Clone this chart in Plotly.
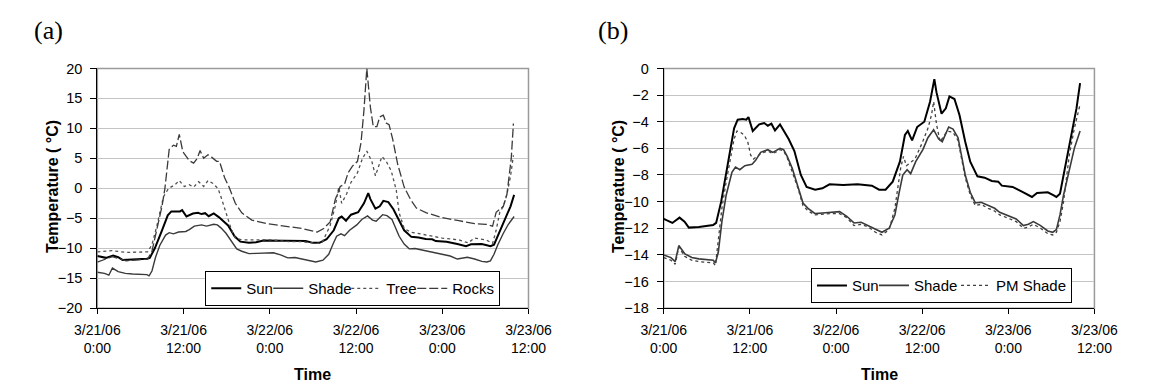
import pandas as pd
import plotly.graph_objects as go

# ---------------- data (hours since 3/21/06 0:00, temperature in °C) ----------------
sun_hours = [0, 1.2, 2.2, 2.9, 3.5, 4.9, 6.9, 7.3, 8.0, 9.0,
             9.8, 10.3, 11.0, 11.5, 11.8, 12.4, 13.3, 14.0, 14.5, 15.0,
             15.5, 16.2, 16.9, 17.4, 18.2, 19.1, 19.9, 21.1, 22.1, 23.1,
             25.0, 27.0, 29.0, 30.0, 30.9, 31.9, 32.9, 33.6, 34.0, 34.6,
             35.3, 36.3, 37.1, 37.7, 38.0, 38.7, 39.3, 39.8, 40.5, 41.2,
             42.0, 42.7, 43.7, 44.7, 45.7, 46.6, 47.1, 48.6, 50.1, 51.3,
             52.0, 53.5, 54.2, 54.7, 55.2, 55.7, 56.2, 57.0, 57.5, 58.0]
sun_temp = [-11.3, -11.6, -11.2, -11.5, -11.95, -11.9, -11.75, -11.6, -10.0, -7.0,
            -4.5, -3.85, -3.8, -3.85, -3.65, -4.7, -4.2, -4.1, -4.3, -4.15,
            -4.65, -4.2, -4.8, -5.3, -6.2, -8.0, -8.9, -9.1, -9.0, -8.7,
            -8.75, -8.7, -8.8, -9.1, -9.1, -8.5, -7.0, -5.0, -4.7, -5.4,
            -4.4, -4.0, -2.5, -0.8, -1.8, -3.4, -3.0, -2.1, -2.3, -3.5,
            -5.5, -7.0, -8.1, -8.2, -8.45, -8.5, -8.8, -8.9, -9.3, -9.65,
            -9.35, -9.3, -9.5, -9.65, -9.4, -8.0, -6.5, -4.5, -3.0, -1.1]

shade_hours = [0, 1.0, 1.6, 2.1, 2.9, 3.9, 4.9, 5.9, 6.9, 7.2,
               7.6, 8.1, 8.7, 9.5, 10.0, 10.6, 11.3, 12.3, 12.8, 13.5,
               14.5, 15.2, 16.2, 16.7, 17.2, 17.9, 18.7, 19.4, 20.1, 21.1,
               22.1, 23.1, 24.5, 25.5, 26.5, 27.5, 28.5, 29.5, 30.4, 31.4,
               32.2, 32.8, 33.3, 33.9, 34.4, 35.1, 36.1, 36.8, 37.6, 38.3,
               38.8, 39.7, 40.3, 41.0, 41.5, 42.0, 42.7, 43.4, 44.2, 45.2,
               46.1, 46.8, 47.8, 49.1, 50.1, 50.8, 51.5, 52.5, 53.5, 54.2,
               54.7, 55.2, 55.7, 56.5, 57.2, 58.0]
shade_temp = [-14.0, -14.2, -14.5, -13.3, -13.9, -14.2, -14.3, -14.35, -14.4, -14.6,
              -13.8, -11.5, -9.5, -7.8, -7.4, -7.6, -7.3, -7.2, -6.9, -6.3,
              -6.1, -6.3, -6.0, -6.1, -6.6, -7.5, -8.8, -10.1, -10.5, -10.9,
              -10.85, -10.8, -10.75, -11.1, -11.6, -11.55, -11.8, -12.1, -12.3, -12.0,
              -11.0, -9.3, -8.0, -7.6, -7.9, -7.0, -6.1, -5.2, -4.6, -5.3,
              -5.5, -4.4, -4.55, -5.2, -6.5, -8.0, -9.3, -10.1, -10.05, -10.3,
              -10.5, -10.8, -11.0, -11.3, -11.8, -11.7, -11.5, -11.8, -12.2, -12.3,
              -12.1, -11.0, -9.5, -7.5, -6.0, -4.7]

pm_shade_hours = [0, 1.0, 1.6, 2.1, 2.9, 3.9, 4.9, 5.9, 6.9, 7.2,
                  7.6, 8.1, 8.7, 9.3, 9.8, 10.2, 10.7, 11.2, 11.7, 12.1,
                  12.5, 13.0, 13.5, 14.5, 15.2, 16.2, 16.7, 17.2, 17.9, 18.7,
                  19.4, 20.1, 21.1, 22.1, 23.1, 24.5, 25.5, 26.5, 27.5, 28.5,
                  29.5, 30.4, 31.4, 32.2, 32.7, 33.0, 33.4, 33.8, 34.3, 35.0,
                  36.0, 36.8, 37.3, 37.6, 38.0, 38.5, 39.5, 40.3, 41.0, 41.5,
                  42.0, 42.7, 43.4, 44.2, 45.2, 46.1, 46.8, 47.8, 49.1, 50.1,
                  50.8, 51.5, 52.5, 53.5, 54.2, 54.7, 55.2, 55.7, 56.5, 57.2,
                  58.0]
pm_shade_temp = [-14.2, -14.4, -14.7, -13.4, -14.1, -14.4, -14.5, -14.55, -14.6, -14.8,
                 -13.0, -10.5, -8.5, -6.8, -5.3, -4.7, -4.8, -5.0, -5.5, -6.5,
                 -6.8, -6.6, -6.4, -6.2, -6.4, -6.1, -6.2, -6.7, -7.7, -9.0,
                 -10.3, -10.7, -11.0, -10.95, -10.9, -10.9, -11.2, -11.8, -11.7, -11.9,
                 -12.3, -12.5, -12.1, -10.5, -8.5, -7.5, -6.6, -7.3, -7.1, -6.8,
                 -5.6, -4.5, -3.5, -2.5, -4.2, -5.5, -4.7, -4.8, -5.4, -6.7,
                 -8.2, -9.5, -10.3, -10.2, -10.5, -10.7, -11.0, -11.2, -11.5, -12.0,
                 -11.9, -11.7, -12.0, -12.4, -12.5, -12.3, -11.5, -10.0, -6.5, -4.5,
                 -2.7]

tree_hours = [0, 2.0, 4.0, 7.0, 7.6, 8.3, 9.2, 9.9, 10.8, 11.4,
              12.1, 12.8, 13.4, 14.1, 14.8, 15.4, 16.1, 16.8, 17.2, 17.9,
              18.6, 19.2, 20.1, 21.9, 24.1, 26.8, 28.4, 30.6, 31.3, 32.4,
              33.1, 33.6, 34.0, 34.7, 35.3, 36.2, 36.9, 37.5, 38.2, 38.7,
              39.1, 39.6, 40.2, 40.9, 41.6, 42.0, 42.7, 43.6, 45.8, 48.0,
              50.3, 51.6, 52.5, 54.1, 55.0, 55.5, 56.0, 56.5, 57.0, 57.5,
              57.9]
tree_temp = [-10.6, -10.4, -10.7, -10.6, -9.4, -6.2, -1.4, -0.05, 0.6, 1.3,
             0.3, 0.6, 0.2, 1.1, 0.3, 1.3, 0.8, -0.05, -1.4, -4.0,
             -6.7, -8.3, -8.6, -8.6, -8.6, -8.9, -8.9, -9.2, -9.0, -6.2,
             -3.0, 0.2, -2.5, -0.9, 1.0, 2.6, 5.0, 6.2, 4.5, 2.1,
             3.4, 5.3, 4.5, 2.9, -0.3, -4.1, -6.7, -7.3, -7.8, -8.3,
             -8.6, -9.1, -8.3, -8.6, -9.2, -7.0, -4.0, -3.0, -1.0, 2.0,
             5.5]

rocks_hours = [0, 2.1, 4.0, 7.0, 7.6, 8.3, 9.0, 9.4, 10.0, 10.6,
               11.0, 11.4, 11.9, 12.8, 13.4, 13.9, 14.3, 14.8, 15.4, 15.9,
               16.6, 17.0, 17.7, 18.3, 19.2, 20.1, 21.5, 23.7, 26.8, 28.4,
               30.6, 31.5, 32.4, 33.1, 33.8, 34.4, 34.9, 35.5, 36.2, 36.7,
               37.1, 37.5, 38.0, 38.4, 38.9, 39.3, 39.8, 40.2, 40.6, 41.1,
               41.8, 42.7, 43.6, 44.4, 45.8, 48.0, 50.3, 52.5, 54.1, 55.0,
               55.5, 56.0, 56.5, 57.0, 57.3, 57.6, 57.9]
rocks_temp = [-12.3, -11.4, -12.1, -11.8, -10.5, -7.0, -3.0, -0.05, 6.5, 7.2,
              7.0, 9.0, 6.1, 4.6, 4.2, 5.0, 6.3, 5.0, 5.6, 5.2,
              4.5, 4.5, 1.8, 0.3, -2.5, -4.1, -5.3, -5.9, -6.45, -6.7,
              -7.3, -6.7, -5.6, -1.9, 0.3, 0.7, 2.6, 3.7, 4.5, 7.7,
              13.0, 20.0, 13.5, 10.3, 10.3, 11.9, 12.2, 10.9, 10.6, 8.2,
              4.0, 0.2, -1.9, -3.3, -4.1, -4.9, -5.4, -5.9, -6.0, -6.3,
              -4.0, -3.5, -3.0, -1.0, 2.0, 5.0, 10.8]

tick_hours = [0, 12, 24, 36, 48, 60]
tick_labels = ["3/21/06<br>0:00", "3/21/06<br>12:00", "3/22/06<br>0:00",
               "3/22/06<br>12:00", "3/23/06<br>0:00", "3/23/06<br>12:00"]

y_range_a = [-20, 20]
y_range_b = [-18, 0]

# ---------------- helpers ----------------
BASE = pd.Timestamp("2006-03-21 00:00")


def to_time(hours):
    return BASE + pd.to_timedelta(hours, unit="h")


W, H = 1152, 391
FONT = "Liberation Sans, Arial, sans-serif"
XTICK_SIZE = 14
YTICK_SIZE = 14.5
LEG_SIZE = 15

fig = go.Figure()

# panel (a)
fig.add_trace(go.Scatter(x=to_time(sun_hours), y=sun_temp, name="Sun", mode="lines",
                         line=dict(color="#000000", width=2), xaxis="x", yaxis="y",
                         legend="legend", legendwidth=17))
fig.add_trace(go.Scatter(x=to_time(shade_hours), y=shade_temp, name="Shade", mode="lines",
                         line=dict(color="#3a3a3a", width=1.4), xaxis="x", yaxis="y",
                         legend="legend", legendwidth=33))
fig.add_trace(go.Scatter(x=to_time(tree_hours), y=tree_temp, name="Tree", mode="lines",
                         line=dict(color="#505050", width=1.3, dash="3px,3px"), xaxis="x", yaxis="y",
                         legend="legend", legendwidth=21))
fig.add_trace(go.Scatter(x=to_time(rocks_hours), y=rocks_temp, name="Rocks", mode="lines",
                         line=dict(color="#3a3a3a", width=1.3, dash="9px,3px"), xaxis="x", yaxis="y",
                         legend="legend", legendwidth=42))

# panel (b)
fig.add_trace(go.Scatter(x=to_time(sun_hours), y=sun_temp, name="Sun", mode="lines",
                         line=dict(color="#000000", width=2), xaxis="x2", yaxis="y2",
                         legend="legend2", legendwidth=17))
fig.add_trace(go.Scatter(x=to_time(shade_hours), y=shade_temp, name="Shade", mode="lines",
                         line=dict(color="#3a3a3a", width=1.6), xaxis="x2", yaxis="y2",
                         legend="legend2", legendwidth=37))
fig.add_trace(go.Scatter(x=to_time(pm_shade_hours), y=pm_shade_temp, name="PM Shade", mode="lines",
                         line=dict(color="#404040", width=1.3, dash="3px,3px"), xaxis="x2", yaxis="y2",
                         legend="legend2", legendwidth=70))

xa = (77.5, 527)
xb = (668, 1117)
ytop, ybot = 63, 313


def xdom(p):
    return [p[0] / W, p[1] / W]


ydom = [1 - ybot / H, 1 - ytop / H]

tickvals = [to_time(h) for h in tick_hours]

common_x = dict(type="date", range=[to_time(0), to_time(60)], tickmode="array",
                tickvals=tickvals, ticktext=tick_labels, ticks="outside", ticklen=5,
                tickcolor="#000000", tickwidth=1, showline=True, linecolor="#000000",
                linewidth=1, showgrid=False, zeroline=False,
                tickfont=dict(family=FONT, size=XTICK_SIZE, color="#000000"), ticklabelstandoff=4)
common_y = dict(ticks="outside", ticklen=6, tickcolor="#000000", tickwidth=1,
                showline=True, linecolor="#000000", linewidth=1, showgrid=True,
                gridcolor="#c4c4c4", gridwidth=1, zeroline=False,
                tickfont=dict(family=FONT, size=YTICK_SIZE, color="#000000"), ticklabelstandoff=5)

legend_common = dict(orientation="h", xanchor="left", yanchor="middle",
                     bordercolor="#000000", borderwidth=1, bgcolor="#ffffff",
                     font=dict(family=FONT, size=LEG_SIZE, color="#000000"),
                     itemwidth=30, tracegroupgap=0)

fig.update_layout(
    width=W, height=H, margin=dict(l=0, r=0, t=0, b=0),
    paper_bgcolor="#ffffff", plot_bgcolor="#ffffff",
    xaxis=dict(domain=xdom(xa), anchor="y", **common_x),
    yaxis=dict(domain=ydom, anchor="x", range=y_range_a, dtick=5, **common_y),
    xaxis2=dict(domain=xdom(xb), anchor="y2", **common_x),
    yaxis2=dict(domain=ydom, anchor="x2", range=y_range_b, dtick=2, **common_y),
    legend=dict(x=190 / W, y=1 - 292.5 / H, **legend_common),
    legend2=dict(x=821.5 / W, y=1 - 289.5 / H, **legend_common),
    showlegend=True,
)

# gray frame (top / right edges of plot areas)
for xr, yr in (("x domain", "y domain"), ("x2 domain", "y2 domain")):
    fig.add_shape(type="rect", xref=xr, yref=yr, x0=0, x1=1, y0=0, y1=1,
                  line=dict(color="#9a9a9a", width=1.5), layer="below")

# labels
ann_font = dict(family=FONT, size=16, color="#000000")
for cx, cy_title in ((31, 186), (621, 186)):
    fig.add_annotation(text="<b>Temperature ( °C)</b>", x=cx / W, y=1 - cy_title / H,
                       xref="paper", yref="paper", showarrow=False, textangle=-90,
                       font=ann_font, xanchor="center", yanchor="middle")
for cx in ((xa[0] + xa[1]) / 2, (xb[0] + xb[1]) / 2):
    fig.add_annotation(text="<b>Time</b>", x=cx / W, y=1 - 382.5 / H, xref="paper", yref="paper",
                       showarrow=False, font=ann_font, xanchor="center", yanchor="middle")
for txt, cx in (("(a)", 27), ("(b)", 615)):
    fig.add_annotation(text=txt, x=cx / W, y=1 - 23 / H, xref="paper", yref="paper",
                       showarrow=False, xanchor="center", yanchor="middle",
                       font=dict(family="Liberation Serif, Times New Roman, serif", size=26,
                                 color="#000000"))

fig.write_html("out.html")
